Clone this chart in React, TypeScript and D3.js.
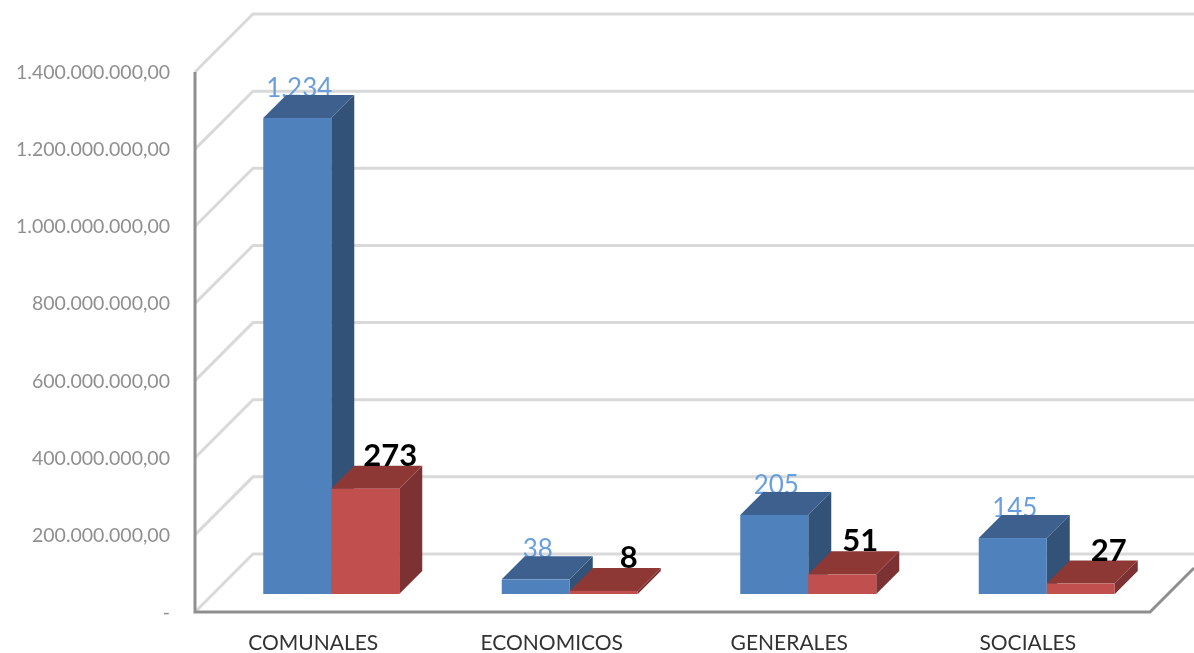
import React from "react";
import * as d3 from "d3";

const categories = ["COMUNALES", "ECONOMICOS", "GENERALES", "SOCIALES"];
const seriesBlue = [1234, 38, 205, 145];
const seriesRed = [273, 8, 51, 27];
const yTicks = [0, 200, 400, 600, 800, 1000, 1200, 1400];

const W = 1194, H = 653;
const FONT = "Lato, Carlito, 'Open Sans', sans-serif";
const loc = d3.formatLocale({ decimal: ",", thousands: ".", grouping: [3], currency: ["", ""] });
const fmtTick = (m: number) => (m === 0 ? "-" : loc.format(",.2f")(m * 1e6));
const fmtVal = d3.format(",");

function prism(x: number, w: number, top: number, base: number, d: number, cols: string[]) {
  return (
    <g>
      <path d={`M${x + w},${top}L${x + w + d},${top - d}L${x + w + d},${base - d}L${x + w},${base}Z`} fill={cols[2]} />
      <path d={`M${x},${top}L${x + d},${top - d}L${x + w + d},${top - d}L${x + w},${top}Z`} fill={cols[1]} />
      <rect x={x} y={top} width={w} height={base - top} fill={cols[0]} />
    </g>
  );
}

export default function App() {
  const y = d3.scaleLinear().domain([0, 1400]).range([612, 72]);
  const x = d3.scaleBand<string>().domain(categories).range([212, 1166]);
  const barW = 68, depthWall = 58, floorD = 18, d = 23;
  const blue = ["#4f81bd", "#3c618e", "#325277"];
  const red = ["#c0504d", "#8e3836", "#7b3130"];
  const redNudge = [0, 0, -7, 3];
  const catNudge = [0, 0, -1, -1];
  return (
    <svg width={W} height={H} viewBox={`0 0 ${W} ${H}`}
      style={{ position: "absolute", left: 0, top: 0, background: "#fff" }}>
      <defs>
        <filter id="soft" x="-5%" y="-5%" width="110%" height="110%">
          <feGaussianBlur stdDeviation="0.5" />
        </filter>
      </defs>
      <g filter="url(#soft)">
        {yTicks.map((t) => (
          <path key={t} d={`M195,${y(t)}L${195 + depthWall},${y(t) - depthWall}L${W},${y(t) - depthWall}`}
            fill="none" stroke="#d9d9d9" strokeWidth={3} />
        ))}
        <path d={`M195,${y(1400)}L195,612L1150,612L${W},${612 - (W - 1150)}`} fill="none" stroke="#8f8f8f" strokeWidth={3} />
        {yTicks.map((t) => (
          <text key={t} x={170} y={y(t) + 7} textAnchor="end" fontFamily={FONT} fontSize={19.5} fill="#8f8f8f">
            {fmtTick(t)}
          </text>
        ))}
        {categories.map((c, i) => {
          const cx = x(c)! + x.bandwidth() / 2;
          const base = y(0) - floorD;
          const tb = y(seriesBlue[i]) - floorD;
          const tr = y(seriesRed[i]) - floorD;
          return (
            <g key={c}>
              <text x={cx - barW / 2 + 2} y={tb - 21} textAnchor="middle" fontFamily={FONT} fontSize={26} fill="#6a9fdf">
                {fmtVal(seriesBlue[i])}
              </text>
              {prism(cx - barW, barW, tb, base, d, blue)}
              {prism(cx, barW, tr, base, d, red)}
              <text x={cx + barW / 2 + 25 + redNudge[i]} y={tr - 23} textAnchor="middle" fontFamily={FONT}
                fontWeight={700} fontSize={31} fill="#000">
                {fmtVal(seriesRed[i])}
              </text>
              <text x={cx - 18 + catNudge[i]} y={650} textAnchor="middle" fontFamily={FONT} fontSize={21} fill="#333">
                {c}
              </text>
            </g>
          );
        })}
      </g>
    </svg>
  );
}
